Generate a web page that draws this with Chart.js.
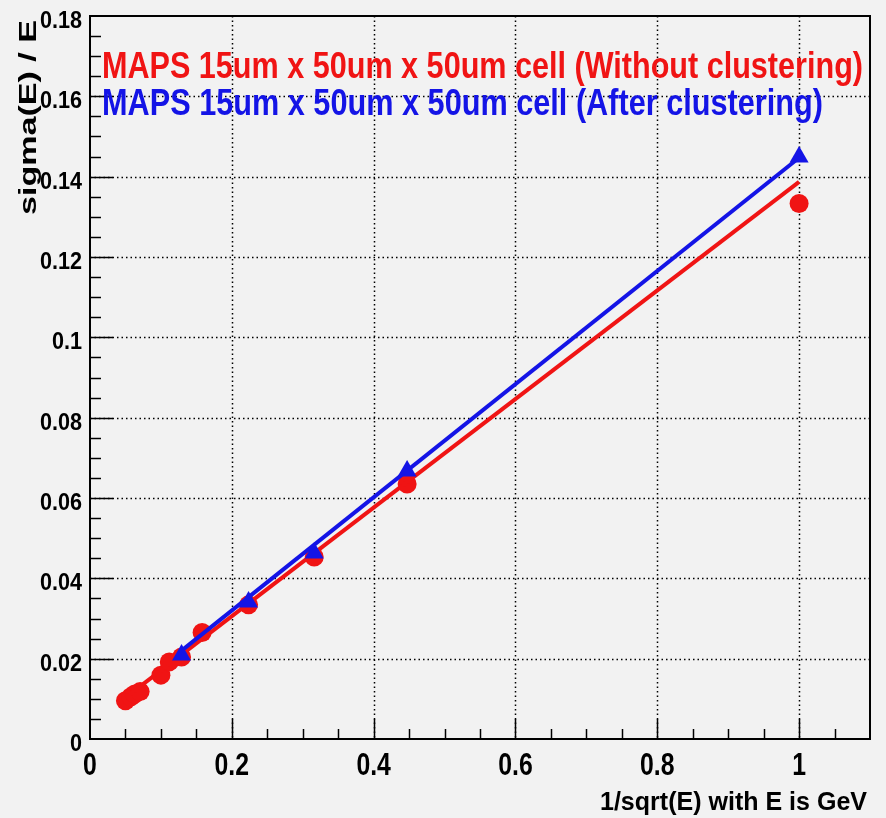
<!DOCTYPE html>
<html>
<head>
<meta charset="utf-8">
<script src="https://cdn.jsdelivr.net/npm/chart.js@4.4.1/dist/chart.umd.min.js"></script>
<style>
  html, body { margin: 0; padding: 0; background: #f2f2f2; }
  #wrap { width: 886px; height: 818px; }
</style>
</head>
<body>
<div id="wrap"><canvas id="chart" width="886" height="818"></canvas></div>
<script>
// values
const redX = [0.05, 0.0577, 0.0632, 0.0707, 0.1, 0.1118, 0.1291, 0.1581, 0.2236, 0.3162, 0.4472, 1.0];
const redY = [0.0095, 0.0105, 0.0112, 0.0118, 0.0159, 0.0192, 0.0204, 0.0265, 0.0334, 0.0453, 0.0635, 0.1333];
const blueX = [0.1291, 0.2236, 0.3162, 0.4472, 1.0];
const blueY = [0.0209, 0.0341, 0.0463, 0.0667, 0.1449];

// fitted straight lines (end points)
const redFitX = [0.05, 1.0];
const redFitY = [0.0103, 0.1387];
const blueFitX = [0.1291, 1.0];
const blueFitY = [0.0220, 0.1447];

const xTicks = [0, 0.2, 0.4, 0.6, 0.8, 1];
const yTicks = [0, 0.02, 0.04, 0.06, 0.08, 0.1, 0.12, 0.14, 0.16, 0.18];
const xMinorStep = 0.05;
const yMinorStep = 0.005;

const legendLabels = [
  "MAPS 15um x 50um x 50um cell (Without clustering)",
  "MAPS 15um x 50um x 50um cell (After clustering)"
];
const xTitle = "1/sqrt(E) with E is GeV";
const yTitle = "sigma(E) / E";

const RED = "#f01414";
const BLUE = "#1414e6";
const BG = "#f2f2f2";
const FONT = "'Liberation Sans', Arial, sans-serif";

const toPoints = (xs, ys) => xs.map((x, i) => ({ x: x, y: ys[i] }));
const fmt = v => String(+v.toFixed(2));

// bold text, squeezed sideways by sx (the picture is stretched vertically)
const drawText = (ctx, text, x, y, size, sx, align, color, vertical) => {
  ctx.save();
  ctx.font = "bold " + size + "px " + FONT;
  const w = ctx.measureText(text).width;
  ctx.translate(x, y);
  if (vertical) ctx.rotate(-Math.PI / 2);
  ctx.scale(sx, 1);
  let dx = 0;
  if (align === "center") dx = -w / 2;
  if (align === "right") dx = -w;
  ctx.fillStyle = color;
  ctx.textAlign = "left";
  ctx.textBaseline = "alphabetic";
  ctx.fillText(text, dx, 0);
  ctx.restore();
};

// same, but scaled to a given length
const fitText = (ctx, text, x, y, len, size, color, vertical) => {
  ctx.save();
  ctx.font = "bold " + size + "px " + FONT;
  const w = ctx.measureText(text).width;
  ctx.restore();
  drawText(ctx, text, x, y, size, len / w, "left", color, vertical);
};

const rootStyle = {
  id: "rootStyle",
  beforeDraw(chart) {
    const ctx = chart.ctx;
    ctx.save();
    ctx.fillStyle = BG;
    ctx.fillRect(0, 0, chart.width, chart.height);
    ctx.restore();
  },
  beforeDatasetsDraw(chart) {
    const { ctx, chartArea: a, scales: { x, y } } = chart;
    ctx.save();
    ctx.strokeStyle = "#000";
    ctx.lineWidth = 1.5;
    ctx.setLineDash([1.5, 3]);
    x.ticks.forEach(t => {
      if (t.value <= x.min || t.value >= x.max) return;
      const px = Math.round(x.getPixelForValue(t.value)) + 0.5;
      ctx.beginPath();
      ctx.moveTo(px, a.top);
      ctx.lineTo(px, a.bottom);
      ctx.stroke();
    });
    y.ticks.forEach(t => {
      if (t.value <= y.min || t.value >= y.max) return;
      const py = Math.round(y.getPixelForValue(t.value)) + 0.5;
      ctx.beginPath();
      ctx.moveTo(a.left, py);
      ctx.lineTo(a.right, py);
      ctx.stroke();
    });
    ctx.restore();
  },
  afterDatasetsDraw(chart) {
    const { ctx, chartArea: a, scales: { x, y } } = chart;
    ctx.save();
    ctx.strokeStyle = "#000";
    ctx.lineWidth = 2;
    ctx.strokeRect(a.left, a.top, a.right - a.left, a.bottom - a.top);

    // tick marks pointing into the frame
    ctx.lineWidth = 1.5;
    for (let i = 1; i * xMinorStep < x.max; i++) {
      const px = Math.round(x.getPixelForValue(i * xMinorStep)) + 0.5;
      const len = i % 4 === 0 ? 20 : 10;
      ctx.beginPath();
      ctx.moveTo(px, a.bottom);
      ctx.lineTo(px, a.bottom - len);
      ctx.stroke();
    }
    for (let i = 1; i * yMinorStep < y.max - 1e-9; i++) {
      const py = Math.round(y.getPixelForValue(i * yMinorStep)) + 0.5;
      const len = i % 4 === 0 ? 23 : 11;
      ctx.beginPath();
      ctx.moveTo(a.left, py);
      ctx.lineTo(a.left + len, py);
      ctx.stroke();
    }
    ctx.restore();

    // tick labels, placed by the scales
    x.ticks.forEach(t => {
      drawText(ctx, fmt(t.value), x.getPixelForValue(t.value), a.bottom + 36, 31, 0.8, "center", "#000");
    });
    y.ticks.forEach(t => {
      drawText(ctx, fmt(t.value), a.left - 8, y.getPixelForValue(t.value) + 12, 24, 0.9, "right", "#000");
    });

    fitText(ctx, legendLabels[0], 102, 78, 761, 36, RED, false);
    fitText(ctx, legendLabels[1], 102, 115, 721, 36, BLUE, false);
    fitText(ctx, xTitle, 600, 810, 267, 26, "#000", false);
    fitText(ctx, yTitle, 36, 215, 195, 24, "#000", true);
  }
};

new Chart(document.getElementById("chart"), {
  type: "scatter",
  data: {
    datasets: [
      {
        type: "line",
        data: toPoints(blueFitX, blueFitY),
        borderColor: BLUE,
        borderWidth: 4,
        pointRadius: 0,
        fill: false,
        order: 0
      },
      {
        data: toPoints(blueX, blueY),
        backgroundColor: BLUE,
        borderColor: BLUE,
        borderWidth: 0,
        pointStyle: "triangle",
        pointRadius: 11,
        order: 1
      },
      {
        type: "line",
        data: toPoints(redFitX, redFitY),
        borderColor: RED,
        borderWidth: 4,
        pointRadius: 0,
        fill: false,
        order: 2
      },
      {
        data: toPoints(redX, redY),
        backgroundColor: RED,
        borderColor: RED,
        borderWidth: 0,
        pointStyle: "circle",
        pointRadius: 9.5,
        order: 3
      }
    ]
  },
  options: {
    responsive: false,
    animation: false,
    devicePixelRatio: 1,
    layout: { padding: { top: 16, right: 16, left: 0, bottom: 0 } },
    plugins: { legend: { display: false }, tooltip: { enabled: false } },
    scales: {
      x: {
        type: "linear",
        min: 0,
        max: 1.1,
        grid: { display: false, drawTicks: false },
        border: { display: false },
        afterBuildTicks: s => { s.ticks = xTicks.map(v => ({ value: v })); },
        afterFit: s => { s.height = 79; },
        ticks: { display: false }
      },
      y: {
        type: "linear",
        min: 0,
        max: 0.18,
        grid: { display: false, drawTicks: false },
        border: { display: false },
        afterBuildTicks: s => { s.ticks = yTicks.map(v => ({ value: v })); },
        afterFit: s => { s.width = 90; },
        ticks: { display: false }
      }
    }
  },
  plugins: [rootStyle]
});
</script>
</body>
</html>
